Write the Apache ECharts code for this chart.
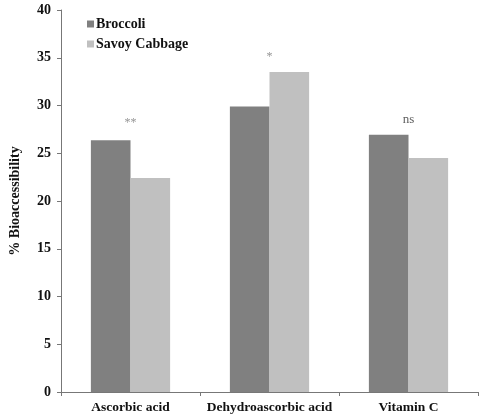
<!DOCTYPE html>
<html>
<head>
<meta charset="utf-8">
<script src="https://cdn.jsdelivr.net/npm/echarts@6/dist/echarts.min.js"></script>
<style>
  html, body { margin: 0; padding: 0; background: #fff; }
  #barchart { width: 480px; height: 418px; }
</style>
</head>
<body>
<div id="barchart"></div>
<script>
var categories = ['Ascorbic acid', 'Dehydroascorbic acid', 'Vitamin C'];
var broccoli = [26.35, 29.9, 26.95];
var savoyCabbage = [22.4, 33.5, 24.5];
// significance marks above each pair
var marks = ['**', '*', 'ns'];
var markLevels = [28.2, 35.1, 28.5];

(function() {
    var myChart = echarts.init(document.getElementById('barchart'));
    var font = '"Liberation Serif", "Times New Roman", serif';

    var markData = [];
    for (var i = 0; i < categories.length; i++) {
        markData.push({
            value: [categories[i], markLevels[i]],
            label: {
                formatter: marks[i],
                color: marks[i] === 'ns' ? '#333' : '#777',
                fontSize: marks[i] === 'ns' ? 13 : 12
            }
        });
    }

    var option = {
        animation: false,
        textStyle: { fontFamily: font },
        grid: { left: 57, right: 2, top: 10, bottom: 26 },
        legend: {
            data: ['Broccoli', 'Savoy Cabbage'],
            orient: 'vertical',
            left: 82,
            top: 12,
            itemWidth: 7,
            itemHeight: 7,
            itemGap: 6,
            icon: 'rect',
            textStyle: { fontFamily: font, fontWeight: 'bold', fontSize: 14, color: '#111', padding: [0, 0, 0, -3] }
        },
        xAxis: {
            type: 'category',
            data: categories,
            axisLine: { lineStyle: { color: '#777' } },
            axisTick: { show: true, length: 4, lineStyle: { color: '#777' } },
            axisLabel: { interval: 0, fontFamily: font, fontWeight: 'bold', fontSize: 13.5, color: '#111', margin: 9 }
        },
        yAxis: {
            type: 'value',
            min: 0,
            max: 40,
            interval: 5,
            name: '% Bioaccessibility',
            nameLocation: 'middle',
            nameGap: 39,
            nameTextStyle: { fontFamily: font, fontWeight: 'bold', fontSize: 14, color: '#111' },
            splitLine: { show: false },
            axisLine: { show: true, lineStyle: { color: '#777' } },
            axisTick: { show: true, length: 4, lineStyle: { color: '#777' } },
            axisLabel: { fontFamily: font, fontWeight: 'bold', fontSize: 14, color: '#111', margin: 10 }
        },
        series: [{
            name: 'Broccoli',
            type: 'bar',
            data: broccoli,
            barGap: '0%',
            barCategoryGap: '43%',
            itemStyle: { color: '#808080' }
        }, {
            name: 'Savoy Cabbage',
            type: 'bar',
            data: savoyCabbage,
            itemStyle: { color: '#c0c0c0' }
        }, {
            name: 'marks',
            type: 'scatter',
            symbolSize: 0,
            data: markData,
            label: { show: true, position: 'inside', fontFamily: font }
        }]
    };
    myChart.setOption(option);
})();
</script>
</body>
</html>
